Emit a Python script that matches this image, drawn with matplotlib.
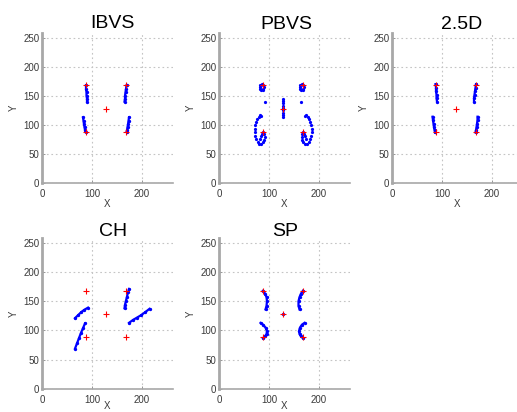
import matplotlib
matplotlib.use('Agg')
import matplotlib.pyplot as plt

plt.rcParams['font.family'] = ['Liberation Sans', 'DejaVu Sans']

# desired feature positions (red crosses), same for every method
target_x = [88, 168, 88, 168, 128]
target_y = [168, 168, 88, 88, 128]

# image trajectories of the four corner points (+ centre) for each control law
ibvs_x = [[88, 88, 89, 89, 90, 90],
          [169, 168, 167, 166, 166, 165],
          [82, 83, 84, 85, 86, 87],
          [174, 173, 172, 171, 170, 169]]
ibvs_y = [[168, 162, 156, 150, 145, 140],
          [168, 162, 156, 150, 145, 140],
          [113, 107, 101, 96, 91, 88],
          [113, 107, 101, 96, 91, 88]]

pbvs_x = [[88, 85, 82, 81, 82, 84, 87, 88, 89, 92],
          [168, 165, 162, 161, 162, 164, 167, 168, 169, 164],
          [88, 90, 91, 90, 88, 84, 80, 77, 74, 72, 71, 71, 72, 74, 76, 79, 82, 84, 86, 84, 82],
          [168, 166, 165, 166, 168, 172, 176, 179, 182, 184, 185, 185, 184, 182, 180, 177, 174, 172, 170, 172, 174],
          [128, 128, 128, 128, 128, 128, 128, 128, 128]]
pbvs_y = [[168, 170, 168, 165, 162, 160, 160, 162, 165, 139],
          [168, 170, 168, 165, 162, 160, 160, 162, 165, 139],
          [88, 84, 79, 74, 70, 67, 67, 70, 75, 81, 87, 93, 99, 105, 110, 114, 117, 115, 84, 80, 76],
          [88, 84, 79, 74, 70, 67, 67, 70, 75, 81, 87, 93, 99, 105, 110, 114, 117, 115, 84, 80, 76],
          [145, 141, 137, 133, 129, 125, 121, 117, 113]]

d25_x = [[87, 88, 88, 89, 89, 90],
         [168, 167, 166, 165, 164, 164],
         [81, 82, 83, 84, 85, 86],
         [171, 171, 170, 169, 168, 167]]
d25_y = [[170, 164, 158, 152, 146, 140],
         [170, 164, 158, 152, 146, 140],
         [114, 108, 102, 96, 91, 87],
         [114, 108, 102, 96, 91, 87]]

ch_x = [[66, 72, 78, 84, 92],
        [66, 70, 74, 78, 82, 86],
        [174, 172, 170, 168, 166, 165],
        [174, 182, 190, 198, 206, 215]]
ch_y = [[121, 126, 131, 135, 139],
        [69, 78, 87, 96, 104, 112],
        [171, 165, 158, 151, 144, 138],
        [113, 118, 122, 126, 131, 137]]

sp_x = [[88, 92, 95, 96, 95, 93],
        [83, 88, 93, 96, 95, 92, 88],
        [168, 164, 161, 159, 159, 161],
        [171, 166, 162, 160, 161, 164, 168],
        [128]]
sp_y = [[168, 163, 157, 150, 142, 136],
        [113, 110, 105, 99, 94, 90, 87],
        [168, 163, 157, 150, 142, 136],
        [113, 110, 105, 99, 94, 90, 87],
        [128]]

titles = ['IBVS', 'PBVS', '2.5D', 'CH', 'SP']
all_x = [ibvs_x, pbvs_x, d25_x, ch_x, sp_x]
all_y = [ibvs_y, pbvs_y, d25_y, ch_y, sp_y]
dotted_only = [False, True, False, False, False]

xticks = [0, 100, 200]
yticks = [0, 50, 100, 150, 200, 250]

W, H = 517, 412
fig = plt.figure(figsize=(W / 100, H / 100), dpi=100)

# axes boxes in pixels: left, bottom (from top), width, height
lefts = [42, 219, 392, 42, 219]
bottoms = [183, 183, 183, 389, 389]
heights = [150, 150, 150, 151, 151]
title_cx = [112, 286, 462, 113, 285]
title_base = [28, 29, 29, 236, 236]
xlabel_pad = [0, 0, 0, -2.5, -2.5]

for i in range(5):
    ax = fig.add_axes([lefts[i] / W, (H - bottoms[i]) / H, 131 / W, heights[i] / H])
    ax.set_xlim(0, 262)
    ax.set_ylim(0, 258)
    ax.set_xticks(xticks)
    ax.set_yticks(yticks)
    ax.grid(True, linestyle=(0, (1.5, 2.5)), color='#c4c4c4', linewidth=0.8)
    ax.set_axisbelow(True)
    for s in ['top', 'right']:
        ax.spines[s].set_visible(False)
    ax.spines['left'].set_color('#a8a8a8')
    ax.spines['left'].set_linewidth(2.0)
    ax.spines['bottom'].set_color('#a8a8a8')
    ax.spines['bottom'].set_linewidth(1.2)
    ax.tick_params(direction='in', length=2, width=0.6, color='#888888',
                   labelsize=7, labelcolor='#3a3a3a', pad=2)
    ax.tick_params(axis='x', pad=4)
    ax.set_xlabel('X', fontsize=7, labelpad=xlabel_pad[i], color='#3a3a3a')
    ax.set_ylabel('Y', fontsize=7, labelpad=3, color='#3a3a3a')

    for tx, ty in zip(all_x[i], all_y[i]):
        if dotted_only[i]:
            ax.plot(tx, ty, '.', color='b', ms=2.6)
        else:
            ax.plot(tx, ty, '.-', color='b', ms=2.8, lw=1.6)
    ax.plot(target_x, target_y, '+', color='r', ms=4.5, mew=0.8)

    fig.text(title_cx[i] / W, (H - title_base[i]) / H, titles[i],
             fontsize=14, ha='center', va='baseline')

fig.savefig('out.png', dpi=100)
